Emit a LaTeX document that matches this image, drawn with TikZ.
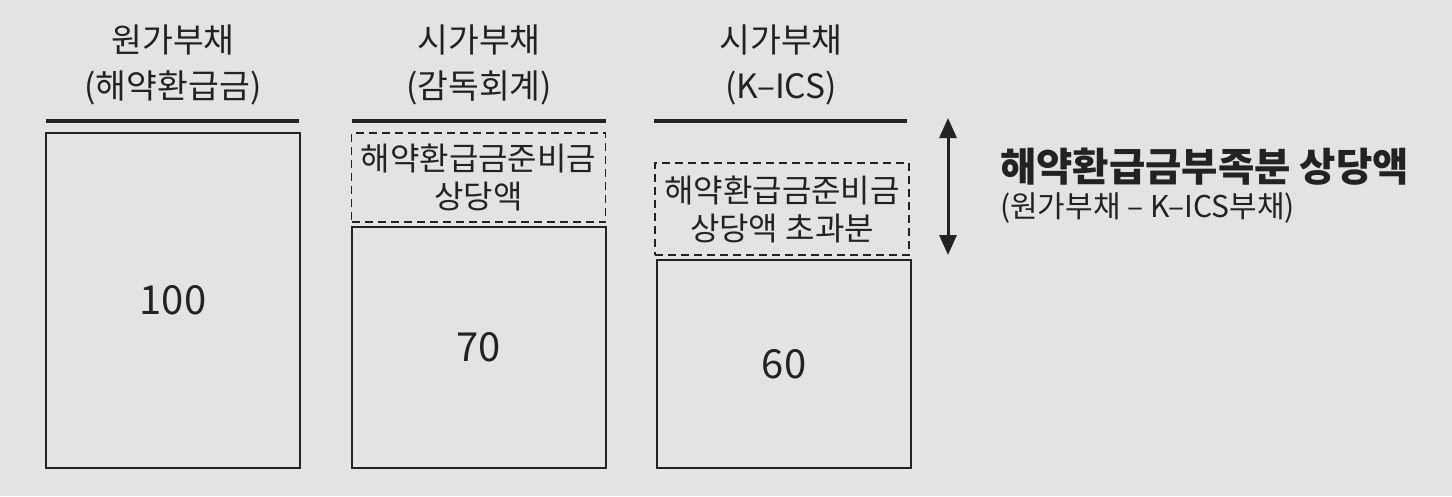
\documentclass[tikz,border=0pt]{standalone}
\usepackage{fontspec}
\setmainfont{Noto Sans CJK KR}
\usetikzlibrary{arrows.meta}
\definecolor{bgray}{HTML}{E3E3E1}
\definecolor{ink}{HTML}{222222}
\tikzset{
  title/.style={align=center, font=\fontsize{33.5}{46}\selectfont, text=ink},
  valbox/.style={draw=ink, line width=2pt, minimum width=254pt, inner sep=0pt,
    font=\fontsize{40}{42}\selectfont, text=ink},
  resbox/.style={draw=ink, line width=1.6pt, dash pattern=on 8pt off 5pt,
    minimum width=254pt, inner sep=0pt, align=center,
    font=\fontsize{32}{38}\selectfont, text=ink},
  headline/.style={draw=ink, line width=3.5pt}
}
\begin{document}
\begin{tikzpicture}[x=1pt,y=-1pt]
  \fill[bgray] (0,0) rectangle (1452,496);
  \useasboundingbox (0,0) rectangle (1452,496);

  % column headings
  \node[title] (t1) at (173, 65) {원가부채\\(해약환급금)};
  \node[title] (t2) at (479, 65) {시가부채\\(감독회계)};
  \node[title] (t3) at (781, 65) {시가부채\\(K--ICS)};

  \coordinate (l1a) at (46,121);  \coordinate (l1b) at (299,121);
  \coordinate (l2a) at (352,121); \coordinate (l2b) at (606,121);
  \coordinate (l3a) at (654,121); \coordinate (l3b) at (907,121);
  \draw[headline] (l1a) -- (l1b);
  \draw[headline] (l2a) -- (l2b);
  \draw[headline] (l3a) -- (l3b);

  % liability boxes
  \node[valbox, minimum height=335pt] (b1) at (173, 300.5) {100};
  \node[valbox, minimum height=241pt] (b2) at (478.5, 347.5) {70};
  \node[valbox, minimum height=208pt] (b3) at (784, 364) {60};

  % reserve boxes
  \node[resbox, minimum height=89pt] (r2) at (478.5, 177.5) {해약환급금준비금\\상당액};
  \node[resbox, minimum height=92pt] (r3) at (782, 209) {해약환급금준비금\\상당액 초과분};

  % shortfall
  \coordinate (atop) at (948,118);
  \coordinate (abot) at (948,255);
  \draw[ink, line width=3pt, {Triangle[width=17pt,length=20pt]}-{Triangle[width=17pt,length=20pt]}] (atop) -- (abot);
  \node[anchor=west, inner sep=0pt, font=\fontsize{39.5}{42}\selectfont\bfseries, text=ink] (s1) at (1000,167) {해약환급금부족분 상당액};
  \node[anchor=west, inner sep=0pt, font=\fontsize{30}{32}\selectfont, text=ink] (s2) at (1000,208) {(원가부채 -- K--ICS부채)};
\end{tikzpicture}
\end{document}
